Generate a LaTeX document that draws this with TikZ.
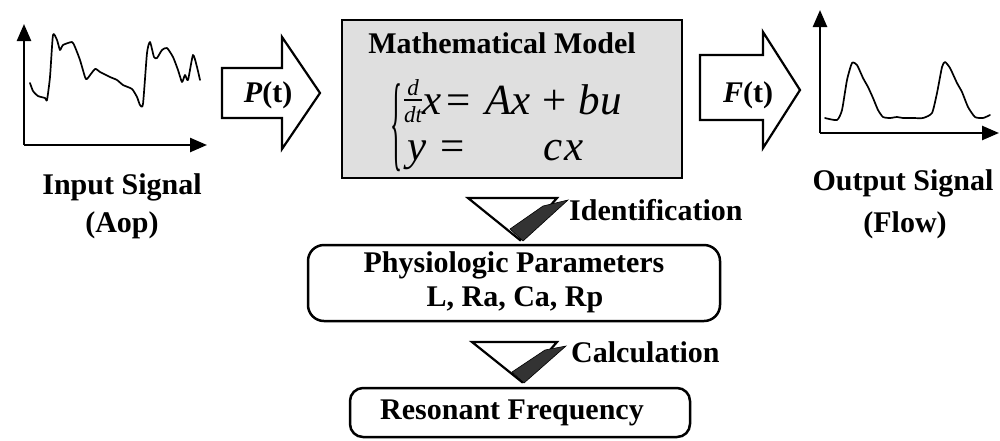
\documentclass[tikz,border=0pt]{standalone}
\usepackage{fontspec}
\setmainfont{Liberation Serif}[ItalicFont={Liberation Serif Italic},
  BoldFont={Liberation Serif Bold}, BoldItalicFont={Liberation Serif Bold Italic}]
\usetikzlibrary{arrows.meta}
\begin{document}
\begin{tikzpicture}[x=1pt,y=-1pt,
  lbl/.style={font=\fontsize{30}{34}\selectfont\bfseries, inner sep=0pt},
  eqt/.style={font=\fontsize{43}{46}\selectfont, inner sep=0pt, anchor=base west},
  frc/.style={font=\fontsize{23}{24}\selectfont\itshape, inner sep=0pt, anchor=base},
  axis/.style={line width=2.5pt, -{Triangle[length=17pt,width=14pt]}},
  sig/.style={line width=1.7pt, line join=round, line cap=round},
  blk/.style={draw, line width=2.2pt, fill=white, line join=miter},
  tri/.style={draw, line width=2.2pt, fill=white, line join=miter},
  shadestrip/.style={fill=black!80, draw=black, line width=0.6pt},
  rbox/.style={draw, line width=2.5pt, rounded corners=16pt}]
\useasboundingbox (0,0) rectangle (1000,440);

% ---------- input signal ----------
\coordinate (io) at (24,145);
\coordinate (iy) at (24,24);
\coordinate (ix) at (207,145);
\draw[axis] (io) -- (iy);
\draw[axis] (io) -- (ix);
\draw[sig] plot[smooth, tension=0.35] coordinates {
 (30,83) (33,91) (38,96) (45,98) (47,100) (50,77) (53,35) (57,40) (60,50)
 (63,45) (72,42) (75,47) (80,60) (85,77) (87,79) (95,69) (100,72) (110,77)
 (117,80) (123,85) (132,89) (137,97) (140,105) (143,104) (147,53) (150,42)
 (154,57) (157,58) (162,50) (167,48) (173,57) (178,70) (182,82) (185,75)
 (188,80) (193,55) (197,67) (200,80)};
\node[lbl] (inlbl) at (122,187) {Input Signal};
\node[lbl] (inaop) at (122,225) {(Aop)};

% ---------- P(t) block arrow ----------
\draw[blk] (222,68) -- (282,68) -- (282,37) -- (320,93) -- (282,149)
  -- (282,118) -- (222,118) -- cycle;
\node[lbl] (pt) at (268,95) {\textit{P}(t)};

% ---------- mathematical model ----------
\node[draw, line width=2.5pt, fill=gray!25, minimum width=340pt,
      minimum height=158pt, inner sep=0pt] (model) at (512,99) {};
\node[lbl] (mtitle) at (502,43) {Mathematical Model};
% brace
\node[inner sep=0pt] (brace) at (396,128)
  {\resizebox*{12pt}{88pt}{\fontsize{40}{40}\selectfont\{}};
% fraction d/dt
\node[frc] (fd) at (413,95) {d};
\node[frc] (fdt) at (413,122) {dt};
\draw[line width=1.3pt] (404,100) -- (422,100);
% line 1
\node[eqt] (x1) at (422,114) {\textit{x}};
\node[eqt] (eq1) at (446,114) {=};
\node[eqt] (rhs1) at (485,114) {\textit{Ax}\;+\;\textit{bu}};
% line 2
\node[eqt] (y2) at (407,160) {\textit{y}};
\node[eqt] (eq2) at (440,160) {=};
\node[eqt] (rhs2) at (543,160) {\textit{c}\kern2pt\textit{x}};

% ---------- F(t) block arrow ----------
\draw[blk] (700,55) -- (763,55) -- (763,32) -- (800,90) -- (763,148)
  -- (763,120) -- (700,120) -- cycle;
\node[lbl] (ft) at (748,95) {\textit{F}(t)};

% ---------- output signal ----------
\coordinate (oo) at (820,133);
\coordinate (oy) at (820,10);
\coordinate (ox) at (999,133);
\draw[axis] (oo) -- (oy);
\draw[axis] (oo) -- (ox);
\draw[sig] plot[smooth, tension=0.35] coordinates {
 (825,118) (837,120) (842,110) (847,80) (852,63) (857,65) (863,78) (868,87)
 (873,98) (878,110) (883,117) (890,118) (897,117) (903,118) (913,118)
 (923,118) (932,113) (937,93) (942,67) (945,62) (950,68) (957,83) (962,92)
 (968,107) (975,117) (983,118) (990,115)};
\node[lbl] (outlbl) at (903,183) {Output Signal};
\node[lbl] (outflow) at (905,225) {(Flow)};

% ---------- identification ----------
\draw[tri] (468,198) -- (557,198) -- (520,240) -- cycle;
\fill[shadestrip] (543,206) -- (568,200) -- (523,241) -- (510,229) -- cycle;
\node[lbl, anchor=west] (ident) at (569,210) {Identification};

% ---------- physiologic parameters ----------
\node[rbox, minimum width=412pt, minimum height=76pt, inner sep=0pt]
  (phys) at (514,283) {};
\node[lbl] (physt) at (514,265) {Physiologic Parameters};
\node[lbl] (physp) at (515,300) {L, Ra, Ca, Rp};

% ---------- calculation ----------
\draw[tri] (472,342) -- (557,342) -- (522,382) -- cycle;
\fill[shadestrip] (545,350) -- (566,346) -- (524,383) -- (512,372) -- cycle;
\node[lbl, anchor=west] (calc) at (571,352) {Calculation};

% ---------- resonant frequency ----------
\node[rbox, rounded corners=13pt, minimum width=340pt, minimum height=49pt,
  inner sep=0pt] (res) at (520,412.5) {};
\node[lbl] (rest) at (512,413) {Resonant Frequency};
\end{tikzpicture}
\end{document}
